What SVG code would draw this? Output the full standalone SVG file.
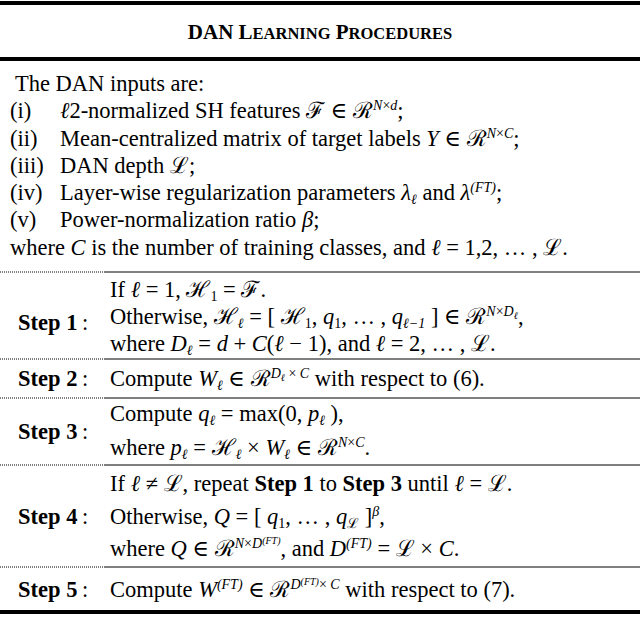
<svg xmlns="http://www.w3.org/2000/svg" width="640" height="618" viewBox="0 0 640 618">
<style>
text{font-family:"Liberation Serif","DejaVu Serif",serif;font-size:22.5px;fill:#000}
.t{font-weight:bold;font-size:21px}
.b{font-weight:bold}
.i{font-style:italic}
.s{font-size:14px}
.th{stroke:#000;stroke-width:4}
.sep{stroke:#000;stroke-width:1}
.dot{stroke:#000;stroke-width:1;stroke-dasharray:1 1}
</style>
<rect width="640" height="618" fill="#fff"/>
<g id="rules">
<line class="th" x1="0" y1="3" x2="640" y2="3"/>
<line class="th" x1="0" y1="59" x2="640" y2="59"/>
<line class="dot" x1="0" y1="272" x2="105" y2="272"/><line class="sep" x1="105" y1="272" x2="640" y2="272"/>
<line class="dot" x1="0" y1="359" x2="105" y2="359"/><line class="sep" x1="105" y1="359" x2="640" y2="359"/>
<line class="dot" x1="0" y1="398" x2="105" y2="398"/><line class="sep" x1="105" y1="398" x2="640" y2="398"/>
<line class="dot" x1="0" y1="465" x2="105" y2="465"/><line class="sep" x1="105" y1="465" x2="640" y2="465"/>
<line class="dot" x1="0" y1="567" x2="105" y2="567"/><line class="sep" x1="105" y1="567" x2="640" y2="567"/>
<line class="th" x1="0" y1="612" x2="640" y2="612"/>
</g>
<g id="title"><text class="t" x="320" y="39" text-anchor="middle">DAN L<tspan font-size="16.5">EARNING</tspan> P<tspan font-size="16.5">ROCEDURES</tspan></text></g>
<g id="inputs">
<text x="15" y="91">The DAN inputs are:</text>
<text x="10" y="118">(i)</text><text x="60" y="118"><tspan class="i">ℓ</tspan>2-normalized SH features ℱ ∈ ℛ<tspan class="s i" dy="-8">N</tspan><tspan class="s" >×</tspan><tspan class="s i">d</tspan><tspan dy="8">;</tspan></text>
<text x="10" y="146">(ii)</text><text x="60" y="146">Mean-centralized matrix of target labels <tspan class="i">Y</tspan> ∈ ℛ<tspan class="s i" dy="-8">N</tspan><tspan class="s">×</tspan><tspan class="s i">C</tspan><tspan dy="8">;</tspan></text>
<text x="10" y="173">(iii)</text><text x="60" y="173">DAN depth ℒ;</text>
<text x="10" y="200">(iv)</text><text x="60" y="200">Layer-wise regularization parameters <tspan class="i">λ</tspan><tspan class="s i" dy="4">ℓ</tspan><tspan dy="-4"> and </tspan><tspan class="i">λ</tspan><tspan class="s i" dy="-8">(FT)</tspan><tspan dy="8">;</tspan></text>
<text x="10" y="227">(v)</text><text x="60" y="227">Power-normalization ratio <tspan class="i">β</tspan>;</text>
<text x="10" y="255">where <tspan class="i">C</tspan> is the number of training classes, and <tspan class="i">ℓ</tspan> = 1,2, … , ℒ.</text>
</g>
<g id="step1">
<text class="b" x="18" y="330">Step 1</text><text x="82" y="330">:</text>
<text x="110" y="297">If <tspan class="i">ℓ</tspan> = 1, ℋ<tspan class="s" dy="4">1</tspan><tspan dy="-4"> = ℱ.</tspan></text>
<text x="110" y="324">Otherwise, ℋ<tspan class="s i" dy="4">ℓ</tspan><tspan dy="-4"> = [ ℋ</tspan><tspan class="s" dy="4">1</tspan><tspan dy="-4">, </tspan><tspan class="i">q</tspan><tspan class="s" dy="4">1</tspan><tspan dy="-4">, … , </tspan><tspan class="i">q</tspan><tspan class="s i" dy="4">ℓ−1</tspan><tspan dy="-4"> ] ∈ ℛ</tspan><tspan class="s i" dy="-8">N</tspan><tspan class="s">×</tspan><tspan class="s i">D</tspan><tspan class="i" font-size="10" dy="3">ℓ</tspan><tspan dy="5">,</tspan></text>
<text x="110" y="351">where <tspan class="i">D</tspan><tspan class="s i" dy="4">ℓ</tspan><tspan dy="-4"> = </tspan><tspan class="i">d</tspan> + <tspan class="i">C</tspan>(<tspan class="i">ℓ</tspan> − 1), and <tspan class="i">ℓ</tspan> = 2, … , ℒ.</text>
</g>
<g id="step2">
<text class="b" x="18" y="386">Step 2</text><text x="82" y="386">:</text>
<text x="110" y="386">Compute <tspan class="i">W</tspan><tspan class="s i" dy="4">ℓ</tspan><tspan dy="-4"> ∈ ℛ</tspan><tspan class="s i" dy="-8">D</tspan><tspan class="i" font-size="10" dy="3">ℓ</tspan><tspan class="s" dy="-3"> × </tspan><tspan class="s i">C</tspan><tspan dy="8"> with respect to (6).</tspan></text>
</g>
<g id="step3">
<text class="b" x="18" y="439">Step 3</text><text x="82" y="439">:</text>
<text x="110" y="421">Compute <tspan class="i">q</tspan><tspan class="s i" dy="4">ℓ</tspan><tspan dy="-4"> = max(0, </tspan><tspan class="i">p</tspan><tspan class="s i" dy="4">ℓ</tspan><tspan dy="-4"> ),</tspan></text>
<text x="110" y="455">where <tspan class="i">p</tspan><tspan class="s i" dy="4">ℓ</tspan><tspan dy="-4"> = ℋ</tspan><tspan class="s i" dy="4">ℓ</tspan><tspan dy="-4"> × </tspan><tspan class="i">W</tspan><tspan class="s i" dy="4">ℓ</tspan><tspan dy="-4"> ∈ ℛ</tspan><tspan class="s i" dy="-8">N</tspan><tspan class="s">×</tspan><tspan class="s i">C</tspan><tspan dy="8">.</tspan></text>
</g>
<g id="step4">
<text class="b" x="18" y="524">Step 4</text><text x="82" y="524">:</text>
<text x="110" y="491">If <tspan class="i">ℓ</tspan> ≠ ℒ, repeat <tspan class="b">Step 1</tspan> to <tspan class="b">Step 3</tspan> until <tspan class="i">ℓ</tspan> = ℒ.</text>
<text x="110" y="524">Otherwise, <tspan class="i">Q</tspan> = [ <tspan class="i">q</tspan><tspan class="s" dy="4">1</tspan><tspan dy="-4">, … , </tspan><tspan class="i">q</tspan><tspan class="s" dy="4">ℒ</tspan><tspan dy="-4"> ]</tspan><tspan class="s i" dy="-8">β</tspan><tspan dy="8">,</tspan></text>
<text x="110" y="556">where <tspan class="i">Q</tspan> ∈ ℛ<tspan class="s i" dy="-8">N</tspan><tspan class="s">×</tspan><tspan class="s i">D</tspan><tspan class="i" font-size="10" dy="-4">(FT)</tspan><tspan dy="12">, and </tspan><tspan class="i">D</tspan><tspan class="s i" dy="-8">(FT)</tspan><tspan dy="8"> = ℒ × </tspan><tspan class="i">C</tspan>.</text>
</g>
<g id="step5">
<text class="b" x="18" y="597">Step 5</text><text x="82" y="597">:</text>
<text x="110" y="597">Compute <tspan class="i">W</tspan><tspan class="s i" dy="-8">(FT)</tspan><tspan dy="8"> ∈ ℛ</tspan><tspan class="s i" dy="-8">D</tspan><tspan class="i" font-size="10" dy="-4">(FT)</tspan><tspan class="s" dy="4">× </tspan><tspan class="s i">C</tspan><tspan dy="8"> with respect to (7).</tspan></text>
</g>
</svg>
